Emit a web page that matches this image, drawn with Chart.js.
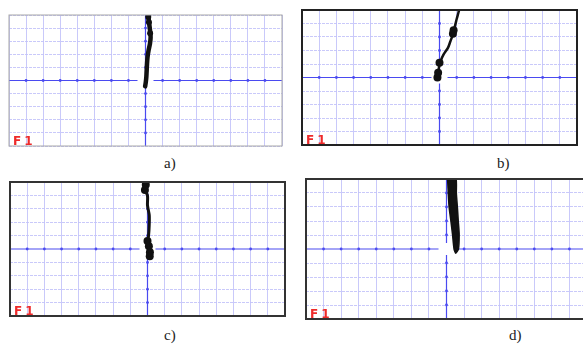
<!DOCTYPE html>
<html lang="en">
<head>
    <meta charset="UTF-8">
    <title>Scope traces F1</title>
    <script src="https://cdn.jsdelivr.net/npm/chart.js"></script>
    <style>
        html, body { margin: 0; padding: 0; background: #fff; overflow: hidden; }
        body { width: 583px; height: 350px; position: relative; }
        .panel { position: absolute; }
        .cap { position: absolute; font-family: "Liberation Serif", serif; font-size: 15px; color: #222; }
    </style>
</head>
<body>
<div class="panel" style="left:6px;top:12px;width:279px;height:137px"><canvas id="pa"></canvas></div>
<div class="panel" style="left:298px;top:6px;width:283px;height:143px"><canvas id="pb"></canvas></div>
<div class="panel" style="left:6px;top:178px;width:283px;height:142px"><canvas id="pc"></canvas></div>
<div class="panel" style="left:305px;top:178px;width:283px;height:142px"><canvas id="pd"></canvas></div>
<div class="cap" style="left:164px;top:155px">a)</div>
<div class="cap" style="left:497px;top:155px">b)</div>
<div class="cap" style="left:164px;top:327px">c)</div>
<div class="cap" style="left:509px;top:327px">d)</div>

<script>
    // screen is 16 x 10 divisions, values in divisions
    const xDivs = [-8, 8];
    const yDivs = [-5, 5];

    // a) almost vertical trace just right of the Y axis
    const aX = [0.16, 0.2, 0.26, 0.3, 0.26, 0.18, 0.12, 0.09, 0.07, 0.05, 0.02, -0.02];
    const aY = [5.0, 4.5, 3.9, 3.3, 2.8, 2.3, 1.8, 1.3, 0.8, 0.3, -0.1, -0.45];
    const aBlobX = [0.16, 0.2, 0.27];
    const aBlobY = [4.85, 4.45, 3.6];

    // b) leaning trace with two blobs
    const bX = [-0.12, -0.02, 0.06, 0.24, 0.49, 0.63, 0.74, 0.81, 0.91, 1.0, 1.1, 1.14];
    const bY = [0.2, 0.8, 1.2, 1.71, 2.19, 2.67, 3.05, 3.38, 3.86, 4.33, 4.8, 5.0];
    const bBlobX = [-0.12, -0.08, 0.0, 0.78, 0.82];
    const bBlobY = [0.0, 0.35, 1.1, 3.25, 3.5];

    // c) vertical trace, blobs at top and around zero
    const cX = [-0.1, -0.15, 0.0, 0.0, 0.1, 0.1, 0.06, 0.0, 0.1, 0.15];
    const cY = [5.0, 4.55, 3.96, 3.25, 2.54, 1.82, 0.98, 0.5, 0.0, -0.45];
    const cBlobX = [-0.1, -0.15, 0.0, 0.08, 0.14, 0.13];
    const cBlobY = [4.8, 4.4, 0.6, 0.2, -0.25, -0.55];

    // d) thick wedge: down the left edge, back up the right edge
    const dX = [0.06, 0.1, 0.15, 0.25, 0.34, 0.43, 0.53, 0.68, 0.72, 0.67, 0.62, 0.56, 0.53, 0.06];
    const dY = [5.1, 4.0, 2.98, 2.0, 1.07, 0.0, -0.3, 0.0, 1.07, 2.0, 2.98, 4.0, 5.1, 5.1];

    const pts = (xs, ys) => xs.map((x, i) => ({x: x, y: ys[i]}));

    const gridColor = 'rgba(195, 195, 250, 0.9)';
    const axisColor = '#4a4af0';

    const scopePlugin = {
        id: 'scope',
        beforeDatasetsDraw(chart) {
            const {ctx, chartArea: a, scales: {x, y}} = chart;
            const cx = x.getPixelForValue(0), cy = y.getPixelForValue(0);
            ctx.save();
            ctx.strokeStyle = axisColor;
            ctx.fillStyle = axisColor;
            ctx.lineWidth = 1.2;
            ctx.beginPath();
            ctx.moveTo(a.left, cy); ctx.lineTo(cx - 8, cy);
            ctx.moveTo(cx + 8, cy); ctx.lineTo(a.right, cy);
            ctx.moveTo(cx, a.top); ctx.lineTo(cx, cy - 6);
            ctx.moveTo(cx, cy + 6); ctx.lineTo(cx, a.bottom);
            ctx.stroke();
            for (let i = xDivs[0] + 1; i < xDivs[1]; i++) {
                if (i === 0) continue;
                ctx.beginPath();
                ctx.arc(x.getPixelForValue(i), cy, 1.4, 0, Math.PI * 2);
                ctx.fill();
            }
            for (let j = yDivs[0] + 1; j < yDivs[1]; j++) {
                if (j === 0) continue;
                ctx.beginPath();
                ctx.arc(cx, y.getPixelForValue(j), 1.4, 0, Math.PI * 2);
                ctx.fill();
            }
            ctx.restore();
        },
        afterDraw(chart, args, opts) {
            const {ctx, chartArea: a} = chart;
            ctx.save();
            ctx.fillStyle = '#ee2a2a';
            ctx.font = 'bold 12px "DejaVu Sans", sans-serif';
            if ('letterSpacing' in ctx) ctx.letterSpacing = '3px';
            ctx.textBaseline = 'bottom';
            ctx.fillText('F1', a.left + 4, a.bottom + 2);
            ctx.strokeStyle = opts.frame;
            ctx.lineWidth = opts.frameWidth;
            ctx.strokeRect(a.left, a.top, a.right - a.left, a.bottom - a.top);
            ctx.restore();
        }
    };

    function trace(data, width, tension) {
        return {data: data, showLine: true, borderColor: '#111', borderWidth: width,
                pointRadius: 0, tension: tension, borderCapStyle: 'round'};
    }
    function blobs(data, r) {
        return {data: data, showLine: false, pointRadius: r, pointHoverRadius: r,
                backgroundColor: '#111', borderColor: '#111', borderWidth: 0};
    }

    function scope(id, datasets, frame, frameWidth, pad) {
        new Chart(document.getElementById(id), {
            type: 'scatter',
            data: {datasets: datasets},
            options: {
                responsive: true,
                maintainAspectRatio: false,
                animation: false,
                events: [],
                layout: {padding: pad},
                plugins: {legend: {display: false}, tooltip: {enabled: false},
                          scope: {frame: frame, frameWidth: frameWidth}},
                scales: {
                    x: {min: xDivs[0], max: xDivs[1],
                        ticks: {display: false, stepSize: 1, maxTicksLimit: 20},
                        grid: {color: c => c.tick.value === 0 ? 'rgba(0,0,0,0)' : gridColor, drawTicks: false, lineWidth: 1},
                        border: {display: false}},
                    y: {min: yDivs[0], max: yDivs[1],
                        ticks: {display: false, stepSize: 1, maxTicksLimit: 20},
                        grid: {color: c => c.tick.value === 0 ? 'rgba(0,0,0,0)' : gridColor, drawTicks: false, lineWidth: 1},
                        border: {display: false, dash: [3, 1]}}
                }
            },
            plugins: [scopePlugin]
        });
    }

    scope('pa', [trace(pts(aX, aY), 4.5, 0.15), blobs(pts(aBlobX, aBlobY), 3)], '#a8a8a8', 1, 1);
    scope('pb', [trace(pts(bX, bY), 2.5, 0.3), blobs(pts(bBlobX, bBlobY), 4)], '#222', 2, 1);
    scope('pc', [trace(pts(cX, cY), 3, 0.3), blobs(pts(cBlobX, cBlobY), 4)], '#333', 2, 1);
    scope('pd', [{data: pts(dX, dY), showLine: true, fill: 'shape', backgroundColor: '#111',
                  borderColor: '#111', borderWidth: 1.5, pointRadius: 0, tension: 0.2}], '#333', 2, 1);
</script>
</body>
</html>
